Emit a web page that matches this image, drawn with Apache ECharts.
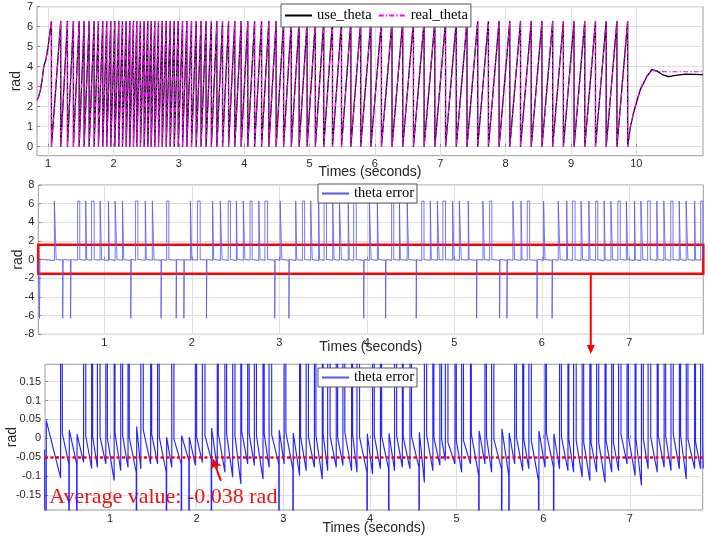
<!DOCTYPE html>
<html><head><meta charset="utf-8">
<script src="https://cdn.jsdelivr.net/npm/echarts@6/dist/echarts.min.js"></script>
<style>html,body{margin:0;padding:0;background:#fff}#c{width:708px;height:538px}</style>
</head><body><div id="c"></div>
<script>
// ---------- Panel 1 : use_theta / real_theta ----------
const p1XTicks = [1,2,3,4,5,6,7,8,9,10];
const p1YTicks = [0,1,2,3,4,5,6,7];
const p1Start = [[0.83,2.33],[0.855,2.5],[0.882,2.83],[0.908,3.33],[0.933,4.0],[0.97,4.4],[1.0,5.0],[1.051,6.28]];
const p1Wraps = [1.051,1.193,1.296,1.387,1.475,1.551,1.628,1.704,1.770,1.836,1.897,1.959,2.020,2.081,2.138,2.194,2.250,2.306,2.357,2.413,2.470,2.525,2.577,2.632,2.689,2.746,2.807,2.868,2.930,2.991,3.057,3.123,3.194,3.266,3.340,3.417,3.498,3.582,3.669,3.761,3.856,3.954,4.055,4.159,4.266,4.377,4.489,4.603,4.721,4.841,4.963,5.089,5.217,5.351,5.489,5.632,5.783,5.939,6.100,6.262,6.426,6.590,6.753,6.917,7.081,7.245,7.409,7.573,7.737,7.900,8.064,8.228,8.392,8.556,8.720,8.884,9.047,9.211,9.375,9.539,9.703,9.867];
const p1SettleUse = [[9.91,1.0],[9.97,1.85],[10.06,2.85],[10.16,3.5],[10.24,3.86],[10.32,3.78],[10.4,3.6],[10.49,3.5],[10.6,3.57],[10.75,3.63],[10.9,3.62],[11.02,3.6]];
const p1SettleReal = [[9.91,1.05],[9.97,1.9],[10.06,2.9],[10.16,3.55],[10.24,3.82],[10.32,3.76],[10.45,3.75],[11.02,3.75]];
const TOP = 6.28;

// ---------- Panels 2/3 : theta error ----------
const p2XTicks = [1,2,3,4,5,6,7];
const p2YTicks = [-8,-6,-4,-2,0,2,4,6,8];
const p3YTicks = [-0.15,-0.1,-0.05,0,0.05,0.1,0.15];
const errLead = [[0.246,-0.03]];
const toothT = [0.265,0.45,0.53,0.62,0.72,0.80,0.885,0.97,1.058,1.146,1.223,1.308,1.384,1.481,1.569,1.654,1.738,1.827,1.915,2.0,2.096,2.173,2.25,2.346,2.442,2.52,2.607,2.69,2.78,2.866,2.953,3.03,3.115,3.20,3.29,3.377,3.46,3.54,3.627,3.71,3.80,3.88,3.97,4.05,4.135,4.22,4.308,4.384,4.48,4.57,4.654,4.738,4.827,4.90,4.997,5.08,5.17,5.26,5.345,5.43,5.523,5.607,5.69,5.775,5.862,5.95,6.037,6.123,6.21,6.295,6.38,6.467,6.552,6.64,6.725,6.81,6.897,6.983,7.07,7.155,7.24,7.327,7.413,7.5,7.585,7.67,7.757,7.84];
const toothPeak = [0.047,0.013,0.022,0.011,0.007,0.004,0.004,0.0,0.013,0.007,0.002,0.031,0.022,0.011,0.003,0.003,-0.002,0.007,0.003,0.003,0.007,0.027,0.013,0.011,0.007,0.018,0.011,0.007,0.011,0.009,0.022,0.016,0.014,0.005,0.003,0.007,0.011,0.007,0.003,0.016,0.011,0.003,0.012,0.007,0.005,0.013,0.007,0.003,0.005,0.016,0.009,0.002,-0.002,-0.011,-0.006,-0.006,0.011,0.02,0.003,-0.002,0.025,0.014,0.003,-0.002,-0.006,0.019,0.013,0.012,0.003,-0.002,-0.006,-0.011,-0.013,-0.011,-0.006,-0.011,0.011,0.003,-0.002,-0.002,0.003,0.007,0.005,0.011,0.007,-0.002,-0.008,0.0];
const toothMin = [-0.105,-0.068,-0.068,-0.064,-0.08,-0.077,-0.068,-0.112,-0.086,-0.077,-0.09,-0.081,-0.068,-0.068,-0.09,-0.077,-0.068,-0.059,-0.072,-0.064,-0.055,-0.081,-0.09,-0.103,-0.121,-0.068,-0.072,-0.108,-0.077,-0.068,-0.068,-0.081,-0.099,-0.086,-0.077,-0.108,-0.086,-0.077,-0.072,-0.086,-0.09,-0.09,-0.095,-0.081,-0.081,-0.086,-0.077,-0.081,-0.077,-0.117,-0.086,-0.072,-0.059,-0.068,-0.09,-0.068,-0.099,-0.068,-0.09,-0.081,-0.099,-0.068,-0.086,-0.081,-0.112,-0.077,-0.077,-0.081,-0.086,-0.09,-0.103,-0.112,-0.09,-0.117,-0.09,-0.086,-0.068,-0.099,-0.125,-0.081,-0.09,-0.077,-0.086,-0.081,-0.108,-0.081,-0.081,-0.08];
const spikeW = [0.005,0.02,0.005,0.005,0.025,0.012,0.03,0.018,0.01,0.022,0.015,0.005,0.028,0.012,0.02,0.005,0.025,0.005,0.005,0.015,0.03,0.005,0.012,0.02,0.026,0.01,0.018,0.024,0.014,0.03,0.005,0.02,0.005,0.012,0.026,0.018,0.01,0.028,0.016,0.022,0.012,0.03,0.005,0.02,0.014,0.005,0.024,0.01,0.018,0.005,0.026,0.012,0.02,0.03,0.016,0.022,0.01,0.005,0.018,0.026,0.005,0.005,0.02,0.012,0.028,0.005,0.016,0.005,0.022,0.01,0.03,0.018,0.014,0.024,0.012,0.02,0.028,0.016,0.01,0.022,0.03,0.012,0.018,0.026,0.014,0.02,0.01,0.024];
const downSpikes = [0.265,0.53,0.62,1.308,1.654,1.827,1.915,2.173,2.953,3.115,3.97,4.22,4.57,5.26,5.523,5.607,5.95,6.123];
const SPIKE = 6.28;
const avgLine = -0.047;
const avgText = 'Average value: -0.038 rad';

// ---------- build series data ----------
function buildSaw(start, wraps, settle) {
  const d = start.slice();
  for (let i = 0; i < wraps.length; i++) {
    d.push([wraps[i], 0]);
    if (i + 1 < wraps.length) d.push([wraps[i + 1], TOP]);
  }
  return d.concat(settle);
}
const useData = buildSaw(p1Start, p1Wraps, p1SettleUse);
const realData = buildSaw(p1Start, p1Wraps, p1SettleReal);

const errData = errLead.slice();
for (let i = 0; i < toothT.length; i++) {
  const t0 = toothT[i];
  const s = downSpikes.includes(t0) ? -1 : 1;
  const prev = i === 0 ? errLead[errLead.length - 1][1] : toothMin[i - 1];
  errData.push([t0 - spikeW[i], prev], [t0 - spikeW[i], s * SPIKE], [t0, s * SPIKE], [t0, toothPeak[i]]);
}
errData.push([7.846, toothMin[toothMin.length - 1]]);

const lblFont = {fontFamily:'Liberation Sans, Arial', fontSize:11, color:'#262626'};
const nameFont = {fontFamily:'Liberation Sans, Arial', fontSize:14, color:'#262626'};
const gridLine = {show:true, lineStyle:{color:'#dedede', width:1}};

function xAx(gi, min, max, ticks, gap) {
  return {type:'value', gridIndex:gi, min:min, max:max,
    axisLine:{show:false}, axisTick:{show:true, inside:true, length:3, customValues:ticks, lineStyle:{color:'#888'}},
    axisLabel:Object.assign({customValues:ticks, margin:3}, lblFont),
    splitLine:gridLine, name:'Times (seconds)', nameLocation:'middle', nameGap:gap, nameMoveOverlap:false, nameTextStyle:nameFont};
}
function yAx(gi, min, max, ticks, gap) {
  return {type:'value', gridIndex:gi, min:min, max:max,
    axisLine:{show:false}, axisTick:{show:true, inside:true, length:3, customValues:ticks, lineStyle:{color:'#888'}},
    axisLabel:Object.assign({customValues:ticks, margin:4}, lblFont),
    splitLine:gridLine, name:'rad', nameLocation:'middle', nameGap:gap, nameRotate:90, nameMoveOverlap:false, nameTextStyle:nameFont};
}
const gridBox = {show:true, borderColor:'#9a9a9a', borderWidth:1, backgroundColor:'#fff'};
const legendBase = {orient:'horizontal', itemWidth:27, itemHeight:2, itemGap:6, padding:[4,3,4,3],
  borderColor:'#555', borderWidth:1, backgroundColor:'#fff', itemStyle:{opacity:0},
  textStyle:{fontFamily:'Liberation Serif, Times New Roman', fontSize:14.5, color:'#000'}};

const chart = echarts.init(document.getElementById('c'), null, {renderer:'canvas'});
const option = {
  animation:false,
  backgroundColor:'#fff',
  grid:[
    Object.assign({left:37, top:6.7, width:666, height:149, outerBoundsMode:'none'}, gridBox),
    Object.assign({left:38.3, top:185, width:665, height:149.3, outerBoundsMode:'none'}, gridBox),
    Object.assign({left:45, top:364.3, width:657.7, height:145.7, outerBoundsMode:'none'}, gridBox)
  ],
  xAxis:[xAx(0,0.83,11.02,p1XTicks,9), xAx(1,0.246,7.846,p2XTicks,6), xAx(2,0.25,7.84,p2XTicks,11)],
  yAxis:[yAx(0,-0.45,7,p1YTicks,14), yAx(1,-8,8,p2YTicks,13), yAx(2,-0.19,0.196,p3YTicks,26)],
  legend:[
    Object.assign({}, legendBase, {left:281, top:4, data:['use_theta','real_theta']}),
    Object.assign({}, legendBase, {left:318, top:184, padding:[2,3,2,3], data:['theta error']}),
    Object.assign({}, legendBase, {left:318, top:368, padding:[2,3,2,3], data:['theta error']})
  ],
  series:[
    {name:'use_theta', type:'line', xAxisIndex:0, yAxisIndex:0, data:useData, symbol:'none',
      lineStyle:{color:'#000', width:1.3}, itemStyle:{color:'#000'}},
    {name:'real_theta', type:'line', xAxisIndex:0, yAxisIndex:0, data:realData, symbol:'none',
      lineStyle:{color:'#ff00ff', width:1.1, type:[5,2,1.5,2]}, itemStyle:{color:'#ff00ff'}},
    {name:'theta error', type:'line', xAxisIndex:1, yAxisIndex:1, data:errData, symbol:'none',
      lineStyle:{color:'#5555ee', width:0.8}, itemStyle:{color:'#5555ee'},
      markArea:{silent:true, itemStyle:{color:'rgba(0,0,0,0)', borderColor:'#ff0000', borderWidth:2.5},
        data:[[{coord:[0.246,1.6]},{coord:[7.846,-1.5]}]]}},
    {name:'theta error', type:'line', xAxisIndex:2, yAxisIndex:2, data:errData, symbol:'none',
      lineStyle:{color:'#2424ff', width:1.15}, itemStyle:{color:'#2424ff'},
      markLine:{silent:true, symbol:'none', label:{show:false},
        lineStyle:{color:'#ff0000', type:[3,2.5], width:2.5},
        data:[{yAxis:avgLine},
          [{coord:[2.28,-0.113], symbol:'none', lineStyle:{type:'solid', width:2, color:'#ff0000'}},
           {coord:[2.188,-0.056], symbol:'arrow', symbolSize:9}]]}}
  ]
};
chart.setOption(option);

// annotations depending on pixel positions
const a0 = chart.convertToPixel({gridIndex:1}, [6.56, -1.5]);
const g3 = chart.convertToPixel({gridIndex:2}, [0.3, -0.155]);
chart.setOption({graphic:[
  {type:'line', shape:{x1:a0[0], y1:a0[1], x2:a0[0], y2:346}, style:{stroke:'#ff0000', lineWidth:2}},
  {type:'polygon', shape:{points:[[a0[0]-4,345],[a0[0]+4,345],[a0[0],354]]}, style:{fill:'#ff0000'}},
  {type:'text', x:g3[0], y:g3[1], style:{text:avgText, fill:'#ee1111', font:'22px "Liberation Serif"', verticalAlign:'middle', textAlign:'left'}}
]});
</script></body></html>
